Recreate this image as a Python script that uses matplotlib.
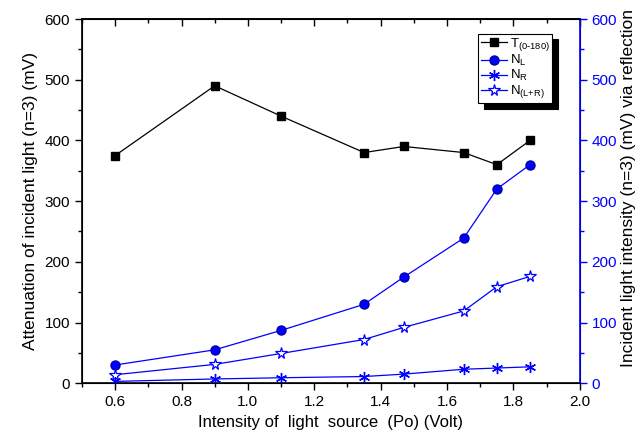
import matplotlib
matplotlib.use('Agg')
import matplotlib.pyplot as plt
from matplotlib.ticker import MultipleLocator

plt.rcParams['font.family'] = ['Liberation Sans', 'DejaVu Sans']
plt.rcParams['mathtext.default'] = 'regular'

# data
volts = [0.6, 0.9, 1.1, 1.35, 1.47, 1.65, 1.75, 1.85]
t_0_180 = [375, 490, 440, 380, 390, 380, 360, 400]
n_left = [30, 55, 87, 130, 175, 239, 320, 360]
n_right = [3, 7, 9, 11, 15, 23, 25, 27]
n_lr = [14, 31, 49, 72, 92, 119, 159, 176]

fig = plt.figure(figsize=(6.4, 4.42), dpi=100)
ax = fig.add_axes([0.128, 0.133, 0.778, 0.824])
ax2 = ax.twinx()

blue = '#0000ff'
h1, = ax.plot(volts, t_0_180, 's-', color='black', lw=0.9, ms=6,
              label='T$_{(0\\text{-}180)}$')
h2, = ax2.plot(volts, n_left, 'o-', color=blue, lw=0.9, ms=6.5,
               markerfacecolor=blue, markeredgecolor='#0000aa',
               label='N$_{L}$')
h3, = ax2.plot(volts, n_right, marker=(6, 2, 0), ls='-', color=blue,
               lw=0.9, ms=8, mew=1.0, label='N$_{R}$')
h4, = ax2.plot(volts, n_lr, '*-', color=blue, lw=0.9, ms=8.5,
               markerfacecolor='white', mew=0.9, label='N$_{(L{+}R)}$')

ax.set_xlim(0.5, 2.0)
ax.set_ylim(0, 600)
ax2.set_ylim(0, 600)
ax.xaxis.set_major_locator(MultipleLocator(0.2))
ax.xaxis.set_minor_locator(MultipleLocator(0.1))
ax.yaxis.set_major_locator(MultipleLocator(100))
ax.yaxis.set_minor_locator(MultipleLocator(50))
ax2.yaxis.set_major_locator(MultipleLocator(100))
ax2.yaxis.set_minor_locator(MultipleLocator(50))

ax.tick_params(axis='both', which='major', labelsize=11, length=5,
               direction='out', width=1)
ax.tick_params(axis='both', which='minor', length=3, direction='out', width=1)
top = ax.secondary_xaxis('top')
top.xaxis.set_major_locator(MultipleLocator(0.2))
top.xaxis.set_minor_locator(MultipleLocator(0.1))
top.tick_params(which='major', direction='in', length=5, width=1,
                labeltop=False)
top.tick_params(which='minor', direction='in', length=3, width=1)
top.spines['top'].set_linewidth(1.2)

ax2.tick_params(axis='y', which='major', colors=blue, labelsize=11,
                length=5, width=1)
ax2.tick_params(axis='y', which='minor', colors=blue, length=3, width=1)
ax2.spines['right'].set_color(blue)
ax2.spines['right'].set_linewidth(1.2)
for s in ['left', 'top', 'bottom']:
    ax.spines[s].set_linewidth(1.2)

ax.set_xlabel('Intensity of  light  source  (Po) (Volt)', fontsize=12,
              labelpad=4)
ax.set_ylabel('Attenuation of incident light (n=3) (mV)', fontsize=12.5,
              labelpad=5)
ax2.set_ylabel('Incident light intensity (n=3) (mV) via reflection',
               fontsize=12.5, labelpad=3)
ax2.yaxis.label.set_y(0.536)

leg = ax2.legend(handles=[h1, h2, h3, h4], loc='upper right',
                 bbox_to_anchor=(0.945, 0.96), fontsize=9.5, frameon=True,
                 fancybox=False, edgecolor='black', handlelength=2.0,
                 handletextpad=0.2, labelspacing=0.0, borderpad=0.2,
                 borderaxespad=0,
                 shadow={'color': 'black', 'alpha': 1, 'ox': 4, 'oy': -4})
leg.get_frame().set_linewidth(0.8)

fig.savefig('out.png', dpi=100)
